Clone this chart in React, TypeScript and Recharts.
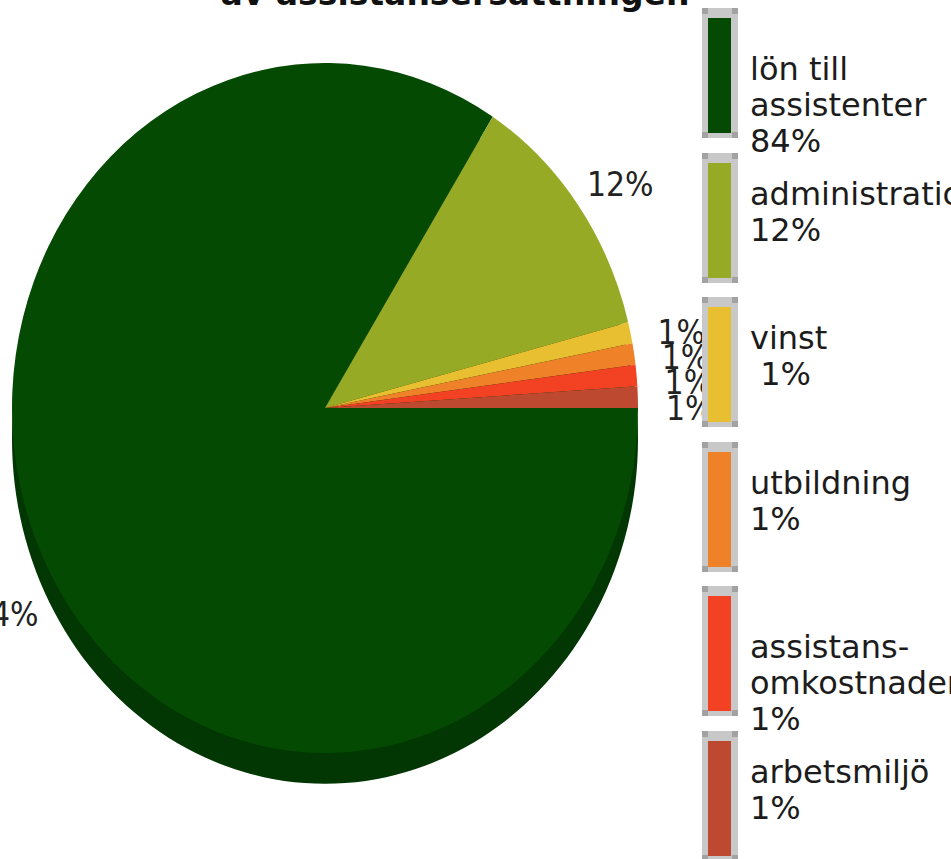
import React from 'react';
import { PieChart, Pie, Cell } from 'recharts';

// ---- data ----
const categories = ['lön till assistenter', 'administration', 'vinst', 'utbildning', 'assistans-omkostnader', 'arbetsmiljö'];
const shares = [84, 12, 1, 1, 1, 1];
const legendNameLines = [['lön till', 'assistenter'], ['administration'], ['vinst'], ['utbildning'], ['assistans-', 'omkostnader'], ['arbetsmiljö']];
const legendPercentLabels = ['84%', '12%', ' 1%', '1%', '1%', '1%'];
const titleText = 'av assistansersättningen';

// ---- style ----
const sliceColors = ['#044a03', '#97aa25', '#e8bf30', '#ef8228', '#f34124', '#bd4a30'];
const shadowColor = '#023602';
const FONT = '"DejaVu Sans", Verdana, sans-serif';
const CX = 325;
const CY = 408;
const R = 313;
const SY = 345 / 313;
const RAD = Math.PI / 180;

const pieData = categories.map((name, i) => ({ name, value: shares[i] }));
const shadowData = [{ name: 'shadow', value: 100 }];

const renderLabel = (props: any) => {
  const { cx, cy, midAngle, outerRadius, value } = props;
  const r = outerRadius + 52;
  const x = cx + r * Math.cos(-midAngle * RAD);
  const y = cy + r * Math.sin(-midAngle * RAD);
  return (
    <text x={x} y={y + 22} textAnchor="middle" fontFamily={FONT} fontSize={30} fill="#222">
      {`${value}%`}
    </text>
  );
};

export default function App() {
  return (
    <div style={{ position: 'absolute', left: 0, top: 0, width: 951, height: 859, overflow: 'hidden', background: '#fff' }}>
      <div style={{ position: 'absolute', left: 0, top: 0, transform: `scaleY(${SY})`, transformOrigin: `${CX}px ${CY}px` }}>
        <PieChart width={951} height={859} margin={{ top: 0, right: 0, bottom: 0, left: 0 }}>
          <Pie
            data={shadowData}
            dataKey="value"
            cx={CX}
            cy={CY + 28}
            outerRadius={R}
            startAngle={360}
            endAngle={0}
            stroke="none"
            fill={shadowColor}
            isAnimationActive={false}
          />
          <Pie
            data={pieData}
            dataKey="value"
            nameKey="name"
            cx={CX}
            cy={CY}
            outerRadius={R}
            startAngle={360}
            endAngle={0}
            stroke="none"
            label={renderLabel}
            labelLine={false}
            isAnimationActive={false}
          >
            {pieData.map((d, i) => (
              <Cell key={d.name} fill={sliceColors[i]} stroke="none" />
            ))}
          </Pie>
        </PieChart>
      </div>
      <svg width={951} height={859} style={{ position: 'absolute', left: 0, top: 0 }}>
        <text x={455} y={5} textAnchor="middle" fontFamily={FONT} fontWeight="bold" fontSize={33} fill="#111">
          {titleText}
        </text>
        {categories.map((name, i) => {
          const top = Math.round(8 + i * 144.6);
          const lines = [...legendNameLines[i], legendPercentLabels[i]];
          const first = top + (lines.length === 3 ? 72 : 52);
          return (
            <g key={name}>
              <rect x={702} y={top} width={36} height={130} fill="#c8c8c8" />
              <rect x={702} y={top} width={6} height={6} fill="#a2a2a2" />
              <rect x={732} y={top} width={6} height={6} fill="#a2a2a2" />
              <rect x={702} y={top + 124} width={6} height={6} fill="#a2a2a2" />
              <rect x={732} y={top + 124} width={6} height={6} fill="#a2a2a2" />
              <rect x={708} y={top + 10} width={23} height={115} fill={sliceColors[i]} />
              {lines.map((ln, j) => (
                <text
                  key={j}
                  x={750}
                  y={first + j * 36}
                  fontFamily={FONT}
                  fontSize={32}
                  fill="#1c1c1c"
                  style={{ whiteSpace: 'pre' }}
                  xmlSpace="preserve"
                >
                  {ln}
                </text>
              ))}
            </g>
          );
        })}
      </svg>
    </div>
  );
}
